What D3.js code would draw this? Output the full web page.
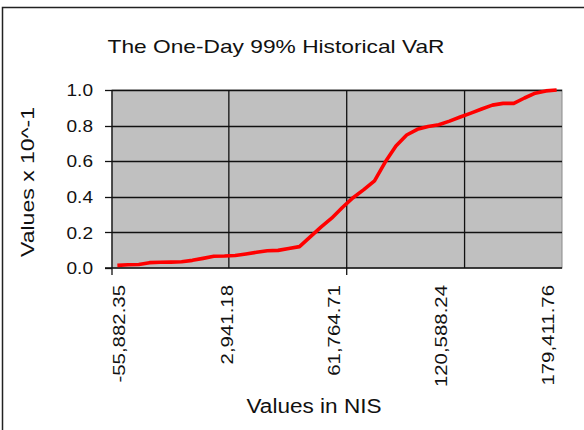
<!DOCTYPE html>
<html><head><meta charset="utf-8">
<script src="https://cdn.jsdelivr.net/npm/d3@7"></script>
<style>
html,body{margin:0;padding:0;background:#fff;}
svg{display:block;font-family:"Liberation Sans",Arial,sans-serif;}
</style></head>
<body>
<svg id="c" width="584" height="430"></svg>
<script>
const titleText = "The One-Day 99% Historical VaR";
const xTitle = "Values in NIS";
const yTitle = "Values x 10^-1";
const categories = [-55882.35,-50000.00,-44117.65,-38235.29,-32352.94,-26470.59,-20588.24,-14705.88,-8823.53,-2941.18,
  2941.18,8823.53,14705.88,20588.24,26470.59,32352.94,38235.29,44117.65,50000.00,55882.35,
  61764.71,67647.06,73529.41,79411.76,85294.12,91176.47,97058.82,102941.18,108823.53,114705.88,
  120588.24,126470.59,132352.94,138235.29,144117.65,150000.00,155882.35,161764.71,167647.06,173529.41,
  179411.76,185294.12];
const values = [0.015,0.018,0.02,0.03,0.032,0.033,0.035,0.043,0.054,0.066,
  0.067,0.07,0.079,0.088,0.097,0.099,0.11,0.12,0.175,0.23,
  0.28,0.34,0.395,0.44,0.49,0.595,0.685,0.747,0.779,0.795,
  0.805,0.825,0.848,0.87,0.893,0.915,0.925,0.925,0.955,0.982,
  0.995,1.0];
const xTickLabels = ["-55,882.35","2,941.18","61,764.71","120,588.24","179,411.76"];
const yTicks = [0,0.2,0.4,0.6,0.8,1.0];
const yTickLabels = ["0.0","0.2","0.4","0.6","0.8","1.0"];

const svg = d3.select("#c");
const L = 112, R = 562, T = 90, B = 268;

function stretchTo(sel, w){ sel.attr("textLength", w).attr("lengthAdjust","spacingAndGlyphs"); }
function stretchBy(sel, f){ sel.each(function(){ const n=this.getComputedTextLength(); d3.select(this).attr("textLength", n*f).attr("lengthAdjust","spacingAndGlyphs"); }); }

// frame
svg.append("rect").attr("x",2.5).attr("y",7.5).attr("width",700).attr("height",700)
  .attr("fill","#fff").attr("stroke","#222").attr("stroke-width",1.5);

const x = d3.scaleBand().domain(categories.map(String)).range([L,R]).padding(0);
const y = d3.scaleLinear().domain([0,1]).range([B,T]);
const bw = x.bandwidth();

// plot area
svg.append("rect").attr("x",L).attr("y",T).attr("width",R-L).attr("height",B-T)
  .attr("fill","#c0c0c0").attr("stroke","#8a8a8a").attr("stroke-width",1);

// horizontal gridlines
svg.append("g").selectAll("line").data(yTicks.slice(1)).join("line")
  .attr("x1",L).attr("x2",R).attr("y1",d=>Math.round(y(d))+0.5).attr("y2",d=>Math.round(y(d))+0.5)
  .attr("stroke","#111").attr("stroke-width",1.3);

// vertical gridlines every 11 categories
const gridIdx = categories.map((c,i)=>i).filter(i=>i>0 && i%11===0);
svg.append("g").selectAll("line").data(gridIdx).join("line")
  .attr("x1",i=>x(String(categories[i]))-1).attr("x2",i=>x(String(categories[i]))-1)
  .attr("y1",T).attr("y2",B).attr("stroke","#111").attr("stroke-width",1.3);

// axes lines
svg.append("line").attr("x1",L).attr("x2",L).attr("y1",T).attr("y2",B).attr("stroke","#111").attr("stroke-width",1.3);
svg.append("line").attr("x1",L-7).attr("x2",R).attr("y1",B).attr("y2",B).attr("stroke","#111").attr("stroke-width",1.5);

// y ticks
svg.append("g").selectAll("line").data(yTicks).join("line")
  .attr("x1",L-7).attr("x2",L).attr("y1",d=>Math.round(y(d))+0.5).attr("y2",d=>Math.round(y(d))+0.5)
  .attr("stroke","#111").attr("stroke-width",1.3);
const yl = svg.append("g").selectAll("text").data(yTicks).join("text")
  .attr("x",93).attr("y",d=>y(d)).attr("dy","0.36em").attr("text-anchor","end")
  .attr("font-size",17).attr("fill","#111").text((d,i)=>yTickLabels[i]);
stretchBy(yl,1.12);

// x major ticks (every 22 categories)
const tickIdx = categories.map((c,i)=>i).filter(i=>i%22===0);
svg.append("g").selectAll("line").data(tickIdx).join("line")
  .attr("x1",i=>x(String(categories[i]))-(i?1:0)).attr("x2",i=>x(String(categories[i]))-(i?1:0))
  .attr("y1",B).attr("y2",B+7).attr("stroke","#111").attr("stroke-width",1.3);

// x tick labels every 10 categories
const labIdx = categories.map((c,i)=>i).filter(i=>i%10===0);
const xl = svg.append("g").selectAll("text").data(labIdx).join("text")
  .attr("transform",(i)=>`translate(${x(String(categories[i]))+bw/2+2},285) rotate(-90)`)
  .attr("dy","0.36em").attr("text-anchor","end").attr("font-size",17).attr("fill","#111")
  .text((i,k)=>xTickLabels[k]);
stretchBy(xl,1.2);

// line
const line = d3.line().x((d,i)=>x(String(categories[i]))+bw/2).y(d=>y(d));
svg.append("path").datum(values).attr("d",line).attr("fill","none")
  .attr("stroke","#ff0000").attr("stroke-width",3.6).attr("stroke-linejoin","round");

// titles
const t = svg.append("text").attr("x",276).attr("y",53).attr("text-anchor","middle")
  .attr("font-size",19).attr("fill","#111").text(titleText);
stretchTo(t,337);
const xt = svg.append("text").attr("x",314).attr("y",413).attr("text-anchor","middle")
  .attr("font-size",20).attr("fill","#111").text(xTitle);
stretchTo(xt,135);
const yt = svg.append("text").attr("transform","translate(34,182) rotate(-90)").attr("text-anchor","middle")
  .attr("font-size",18).attr("fill","#111").text(yTitle);
stretchTo(yt,150);
</script>
</body></html>
